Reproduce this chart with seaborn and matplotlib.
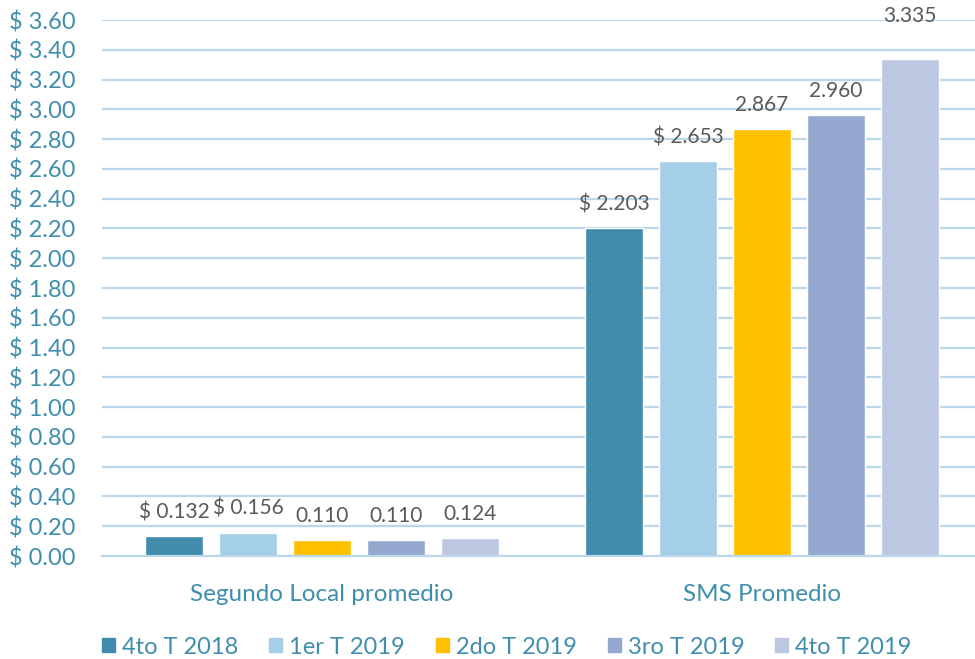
import matplotlib
matplotlib.use("Agg")
import matplotlib.pyplot as plt
import seaborn as sns
import pandas as pd
from matplotlib.ticker import FuncFormatter, FixedLocator, MultipleLocator

# chart data
categories = ["Segundo Local promedio", "SMS Promedio"]
periods = ["4to T 2018", "1er T 2019", "2do T 2019", "3ro T 2019", "4to T 2019"]
local_vals = [0.132, 0.156, 0.110, 0.110, 0.124]
sms_vals = [2.203, 2.653, 2.867, 2.960, 3.335]
local_labels = ["$ 0.132", "$ 0.156", "0.110", "0.110", "0.124"]
sms_labels = ["$ 2.203", "$ 2.653", "2.867", "2.960", "3.335"]
colors = ["#418CAD", "#A5CFE8", "#FFC000", "#95A9D0", "#BCC8E1"]

text_col = "#3F8EAE"
grid_col = "#BDD7EA"
label_col = "#595959"

rows = []
for p, a, b in zip(periods, local_vals, sms_vals):
    rows.append({"cat": categories[0], "periodo": p, "valor": a})
    rows.append({"cat": categories[1], "periodo": p, "valor": b})
df = pd.DataFrame(rows)

sns.set_style("white")
plt.rcParams["font.family"] = ["Lato", "DejaVu Sans"]

fig = plt.figure(figsize=(9.75, 6.59), dpi=100)
ax = fig.add_axes([102 / 975, 103 / 659, 880 / 975, 536 / 659])

sns.barplot(data=df, x="cat", y="valor", hue="periodo", order=categories,
            hue_order=periods, palette=colors, width=0.84, gap=0.216,
            saturation=1, ax=ax, legend=False)

# value labels on top of each bar (the last one sits a bit higher, as in the original)
for i, cont in enumerate(ax.containers):
    ax.bar_label(cont, labels=[local_labels[i], ""], padding=10,
                 fontsize=15, color=label_col)
    ax.bar_label(cont, labels=["", sms_labels[i]],
                 padding=24 if i == 4 else 10, fontsize=15, color=label_col)

ax.set_xlim(-0.5, 1.5)
ax.set_ylim(0, 3.6)
ax.yaxis.set_major_locator(MultipleLocator(0.2))
ax.yaxis.set_major_formatter(FuncFormatter(lambda v, pos: f"$ {v:.2f}"))
ax.grid(axis="y", color=grid_col, linewidth=1.6)
ax.set_axisbelow(True)

for s in ["top", "right", "left"]:
    ax.spines[s].set_visible(False)
ax.spines["bottom"].set_color(grid_col)
ax.spines["bottom"].set_linewidth(1.6)

ax.xaxis.set_minor_locator(FixedLocator([-0.5, 0.5, 1.5]))
ax.tick_params(axis="x", which="minor", length=9, width=1.6, color=grid_col)
ax.tick_params(axis="x", which="major", length=0, pad=20, labelsize=17.5,
               labelcolor=text_col)
ax.tick_params(axis="y", length=0, pad=67, labelsize=17, labelcolor=text_col)
for t in ax.get_yticklabels():
    t.set_horizontalalignment("left")
ax.set_xlabel("")
ax.set_ylabel("")

handles = [plt.Rectangle((0, 0), 1, 1, color=c) for c in colors]
fig.legend(handles, periods, loc="lower center", ncol=5, frameon=False,
           bbox_to_anchor=(0.52, -0.03), fontsize=17, labelcolor=text_col,
           handlelength=0.55, handleheight=0.55, handletextpad=0.3,
           columnspacing=1.3)

fig.savefig("out.png", dpi=100)
